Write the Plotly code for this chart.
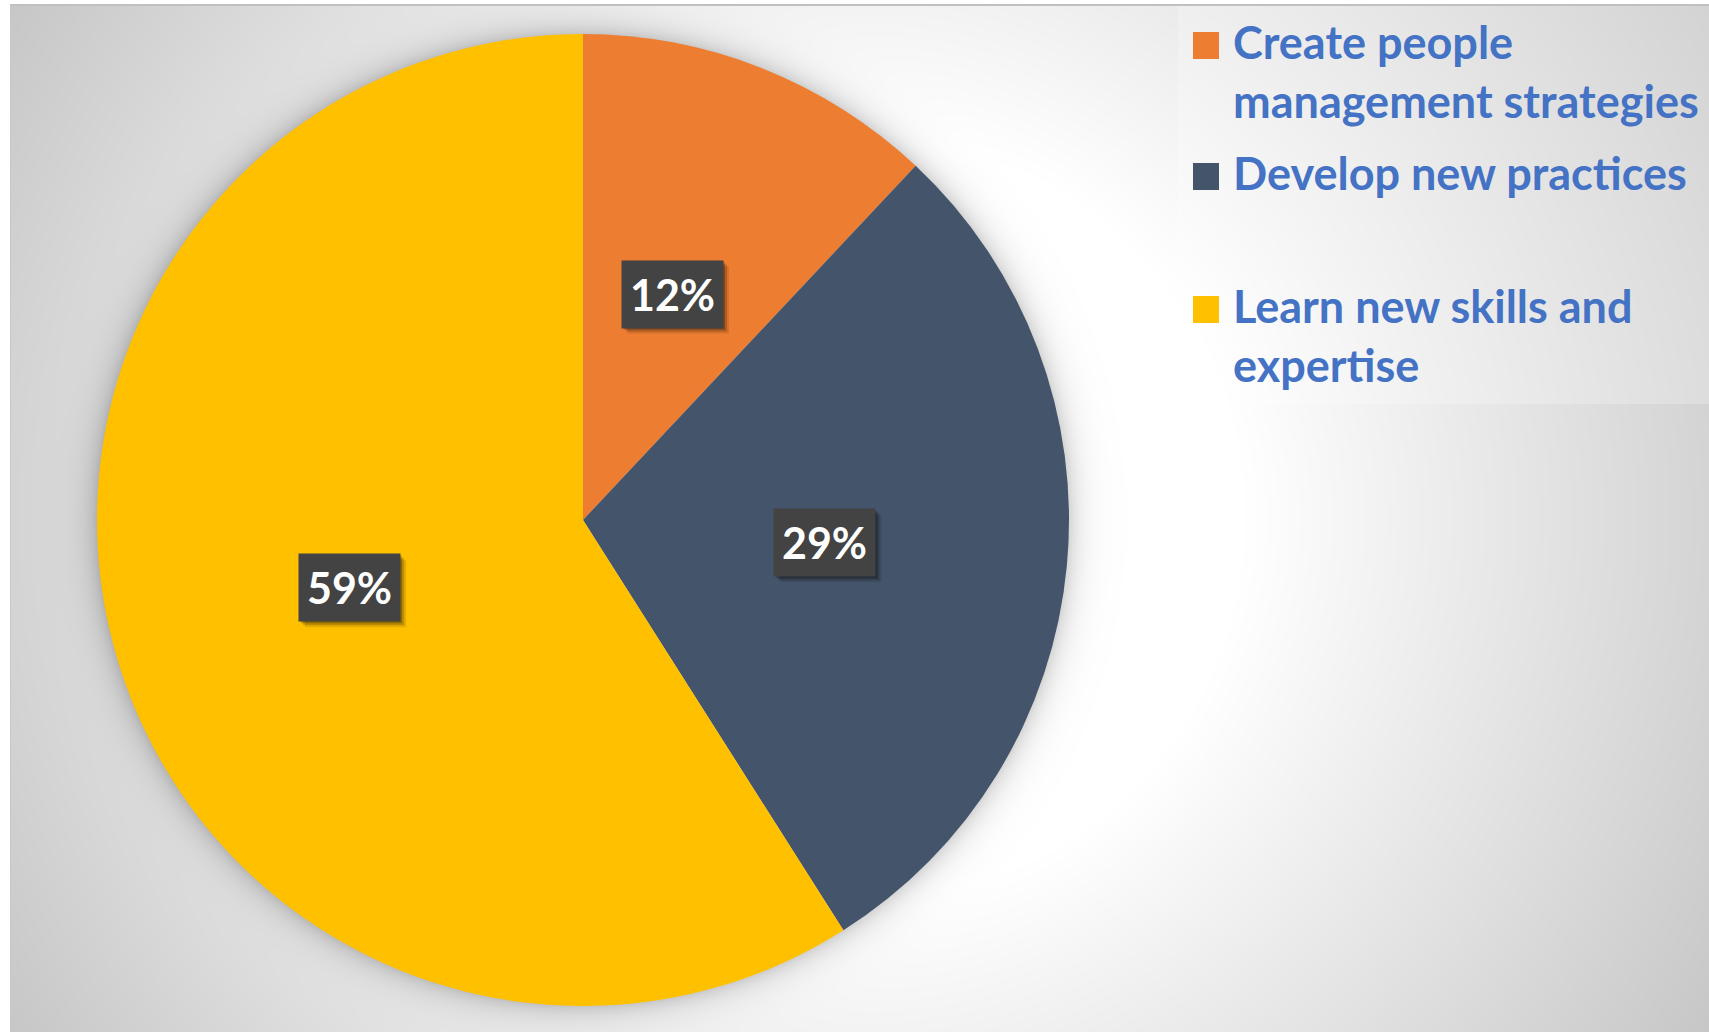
import base64
import struct
import zlib

import numpy as np
import plotly.graph_objects as go

# ---- data ----
categories = [
    "Create people management strategies",
    "Develop new practices",
    "Learn new skills and expertise",
]
legend_lines = [
    "Create people<br>management strategies",
    "Develop new practices",
    "Learn new skills and<br>expertise",
]
shares = [12, 29, 59]
colors = ["#ED7D31", "#44546A", "#FFC000"]

# ---- canvas geometry (pixels) ----
W, H = 1709, 1032
CX, CY, R = 583, 520, 486          # pie centre and radius
AREA_X0, AREA_Y0 = 11, 5           # chart-area border
LEG_X0, LEG_Y1 = 1178, 404         # legend box


def png_data_uri(arr):
    """Encode a 2-D uint8 array as a grayscale PNG data URI."""
    h, w = arr.shape

    def chunk(tag, data):
        return (struct.pack(">I", len(data)) + tag + data
                + struct.pack(">I", zlib.crc32(tag + data) & 0xFFFFFFFF))

    raw = b"".join(b"\x00" + arr[i].tobytes() for i in range(h))
    png = (b"\x89PNG\r\n\x1a\n"
           + chunk(b"IHDR", struct.pack(">IIBBBBB", w, h, 8, 0, 0, 0, 0))
           + chunk(b"IDAT", zlib.compress(raw, 9))
           + chunk(b"IEND", b""))
    return "data:image/png;base64," + base64.b64encode(png).decode()


# radial grey gradient of the chart area, soft glow round the pie,
# lighter legend panel and thin border
yy, xx = np.mgrid[0:H, 0:W].astype(float)
acx, acy = (AREA_X0 + W) / 2, (AREA_Y0 + H) / 2
d = np.hypot(xx + 0.5 - acx, yy + 0.5 - acy)
bg = 255.0 - 0.092 * np.clip(d - 380, 0, None)
dp = np.hypot(xx + 0.5 - CX, yy + 0.5 - CY) - R
bg -= np.where(dp > 0, 42 * np.exp(-dp / 13.0), 42)
legend_mask = (xx >= LEG_X0) & (yy >= AREA_Y0) & (yy < LEG_Y1)
bg = np.where(legend_mask, bg + (255 - bg) * 0.22, bg)
bg[:, :AREA_X0 - 1] = 255
bg[:AREA_Y0 - 1, :] = 255
bg[AREA_Y0 - 1:, AREA_X0 - 1:AREA_X0] = 200
bg[AREA_Y0 - 1:AREA_Y0 + 1, AREA_X0 - 1:] = 192
background = png_data_uri(np.clip(bg, 0, 255).round().astype(np.uint8))

fig = go.Figure(
    go.Pie(
        labels=categories,
        values=shares,
        sort=False,
        direction="clockwise",
        rotation=0,
        marker=dict(colors=colors, line=dict(width=0)),
        textinfo="none",
        hoverinfo="label+percent",
        showlegend=False,
        domain=dict(
            x=[(CX - R) / W, (CX + R) / W],
            y=[1 - (CY + R) / H, 1 - (CY - R) / H],
        ),
    )
)

shapes = []
annotations = []

# percentage labels in dark boxes, halfway out along each slice's mid-angle
total = sum(shares)
cum = 0.0
BOX_W, BOX_H = 101, 67
for v in shares:
    mid = (cum + v / 2) / total * 2 * np.pi
    cum += v
    px = CX + 0.5 * R * np.sin(mid)
    py = CY - 0.5 * R * np.cos(mid)
    for off, alpha in ((6, 0.10), (4, 0.18), (2, 0.25)):
        shapes.append(dict(
            type="rect", xref="paper", yref="paper", layer="above",
            x0=(px - BOX_W / 2 + off) / W, x1=(px + BOX_W / 2 + off) / W,
            y0=1 - (py + BOX_H / 2 + off) / H, y1=1 - (py - BOX_H / 2 + off) / H,
            fillcolor=f"rgba(0,0,0,{alpha})", line=dict(width=0),
        ))
    annotations.append(dict(
        x=px / W, y=1 - py / H, xref="paper", yref="paper",
        xanchor="center", yanchor="middle",
        text=f"<b>{v}%</b>", showarrow=False,
        width=BOX_W, height=BOX_H, borderpad=0,
        bgcolor="#434343",
        font=dict(family="Lato", size=43, color="white"),
    ))

# legend: swatches and labels
SW_X0, SW = 1193, 26
LEG_FONT = 45
baselines = [59, 190, 323]
for label, col, base in zip(legend_lines, colors, baselines):
    shapes.append(dict(
        type="rect", xref="paper", yref="paper", layer="above",
        x0=SW_X0 / W, x1=(SW_X0 + SW) / W,
        y0=1 - base / H, y1=1 - (base - 27) / H,
        fillcolor=col, line=dict(width=0),
    ))
    annotations.append(dict(
        x=1232 / W, y=1 - (base - 0.93 * LEG_FONT - 3) / H,
        xref="paper", yref="paper",
        xanchor="left", yanchor="top", align="left",
        text=f"<b>{label}</b>", showarrow=False, borderpad=0,
        font=dict(family="Lato", size=LEG_FONT, color="#4472C4"),
    ))

fig.update_layout(
    width=W, height=H,
    margin=dict(l=0, r=0, t=0, b=0),
    paper_bgcolor="white",
    plot_bgcolor="rgba(0,0,0,0)",
    images=[dict(
        source=background, xref="paper", yref="paper",
        x=0, y=1, sizex=1, sizey=1, xanchor="left", yanchor="top",
        sizing="stretch", layer="below",
    )],
    shapes=shapes,
    annotations=annotations,
)

fig.write_html("out.html")
